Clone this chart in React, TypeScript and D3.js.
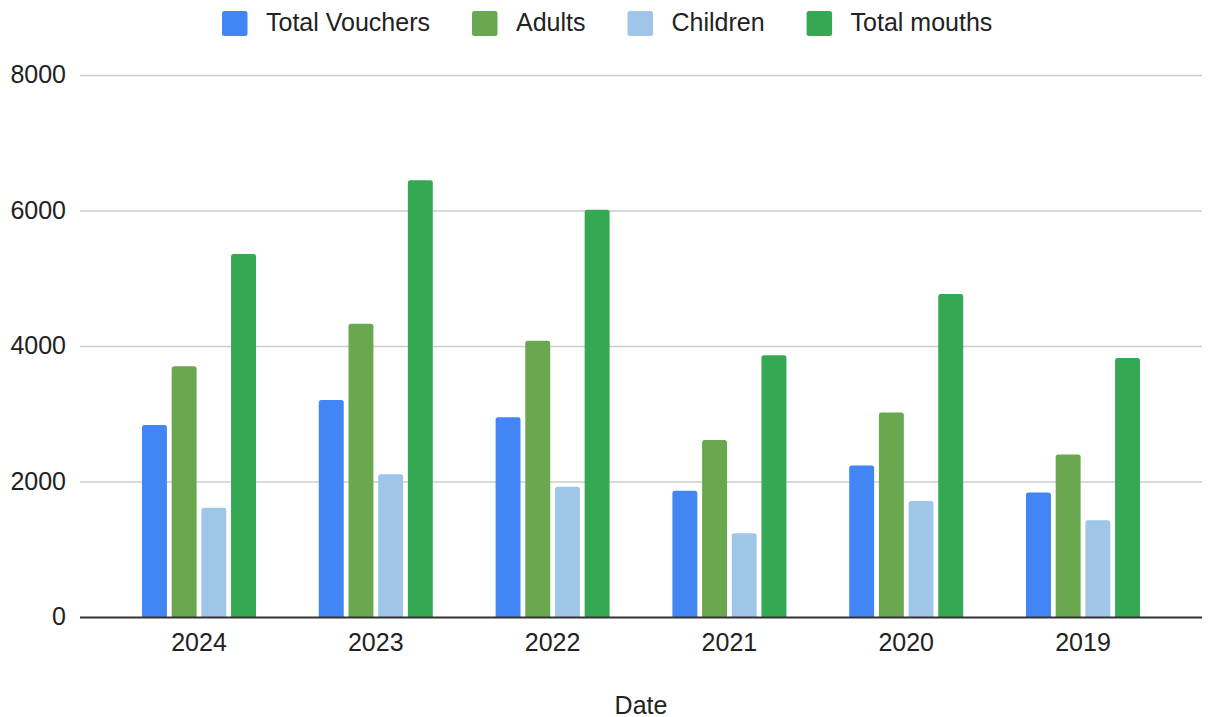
import React, { useEffect, useRef } from 'react';
import * as d3 from 'd3';

const years = ['2024', '2023', '2022', '2021', '2020', '2019'];
const seriesNames = ['Total Vouchers', 'Adults', 'Children', 'Total mouths'];
const totalVouchers = [2840, 3210, 2955, 1870, 2245, 1845];
const adults = [3710, 4335, 4085, 2620, 3025, 2405];
const children = [1620, 2115, 1930, 1245, 1720, 1435];
const totalMouths = [5365, 6455, 6020, 3870, 4775, 3830];
const yTicks = [0, 2000, 4000, 6000, 8000];

const colors = ['#4285f4', '#6aa84f', '#9fc5e8', '#34a853'];

export default function App() {
  const svgRef = useRef<SVGSVGElement>(null);

  useEffect(() => {
    document.body.style.margin = '0';
    if (!svgRef.current) return;

    const svg = d3.select(svgRef.current);
    svg.selectAll('*').remove();

    const width = 1210;
    const margin = { left: 80, right: 8, top: 75.5, bottom: 617.5 };
    const font = '"Liberation Sans", Arial, sans-serif';
    const textColor = '#222';

    const values = [totalVouchers, adults, children, totalMouths];

    const x = d3.scaleBand<string>()
      .domain(years)
      .range([margin.left, width - margin.right])
      .paddingInner(0)
      .paddingOuter(0.173);

    const inner = d3.scaleBand<string>()
      .domain(seriesNames)
      .range([-57, 57])
      .paddingInner(0.16)
      .paddingOuter(0);

    const y = d3.scaleLinear()
      .domain([0, 8000])
      .range([margin.bottom, margin.top]);

    // gridlines
    svg.append('g')
      .selectAll('line')
      .data(yTicks.filter(t => t > 0))
      .enter()
      .append('line')
      .attr('x1', margin.left)
      .attr('x2', width - margin.right)
      .attr('y1', d => y(d))
      .attr('y2', d => y(d))
      .attr('stroke', '#cccccc')
      .attr('stroke-width', 1.5);

    // y tick labels
    svg.append('g')
      .selectAll('text')
      .data(yTicks)
      .enter()
      .append('text')
      .attr('x', 66)
      .attr('y', d => y(d))
      .attr('dy', '0.31em')
      .attr('text-anchor', 'end')
      .attr('font-family', font)
      .attr('font-size', 25)
      .attr('fill', textColor)
      .text(d => String(d));

    // bars with rounded tops
    const r = 2.5;
    const barPath = (x0: number, w: number, top: number, base: number) => {
      const rr = Math.min(r, (base - top) / 2);
      return `M${x0},${base}V${top + rr}Q${x0},${top} ${x0 + rr},${top}H${x0 + w - rr}Q${x0 + w},${top} ${x0 + w},${top + rr}V${base}Z`;
    };

    seriesNames.forEach((name, si) => {
      svg.append('g')
        .selectAll('path')
        .data(years)
        .enter()
        .append('path')
        .attr('d', (yr, i) => {
          const cx = (x(yr) as number) + x.bandwidth() / 2;
          const x0 = cx + (inner(name) as number);
          return barPath(x0, inner.bandwidth(), y(values[si][i]), y(0));
        })
        .attr('fill', colors[si]);
    });

    // baseline
    svg.append('line')
      .attr('x1', margin.left)
      .attr('x2', width - margin.right)
      .attr('y1', y(0))
      .attr('y2', y(0))
      .attr('stroke', '#333333')
      .attr('stroke-width', 2);

    // x labels
    svg.append('g')
      .selectAll('text')
      .data(years)
      .enter()
      .append('text')
      .attr('x', d => (x(d) as number) + x.bandwidth() / 2)
      .attr('y', 651)
      .attr('text-anchor', 'middle')
      .attr('font-family', font)
      .attr('font-size', 25)
      .attr('fill', textColor)
      .text(d => d);

    // axis title
    svg.append('text')
      .attr('x', (margin.left + width - margin.right) / 2)
      .attr('y', 713.5)
      .attr('text-anchor', 'middle')
      .attr('font-family', font)
      .attr('font-size', 25)
      .attr('fill', textColor)
      .text('Date');

    // legend
    const legend = svg.append('g');
    let lx = 222;
    seriesNames.forEach((name, i) => {
      legend.append('rect')
        .attr('x', lx)
        .attr('y', 11)
        .attr('width', 25.5)
        .attr('height', 25)
        .attr('rx', 2.5)
        .attr('fill', colors[i]);
      const t = legend.append('text')
        .attr('x', lx + 44)
        .attr('y', 30.5)
        .attr('font-family', font)
        .attr('font-size', 25)
        .attr('fill', textColor)
        .text(name);
      const tw = (t.node() as SVGTextElement).getComputedTextLength();
      lx = lx + 44 + tw + 42;
    });
  }, []);

  return (
    <div style={{ width: 1210, height: 717, background: '#fff' }}>
      <svg ref={svgRef} width={1210} height={717} style={{ display: 'block' }} />
    </div>
  );
}
